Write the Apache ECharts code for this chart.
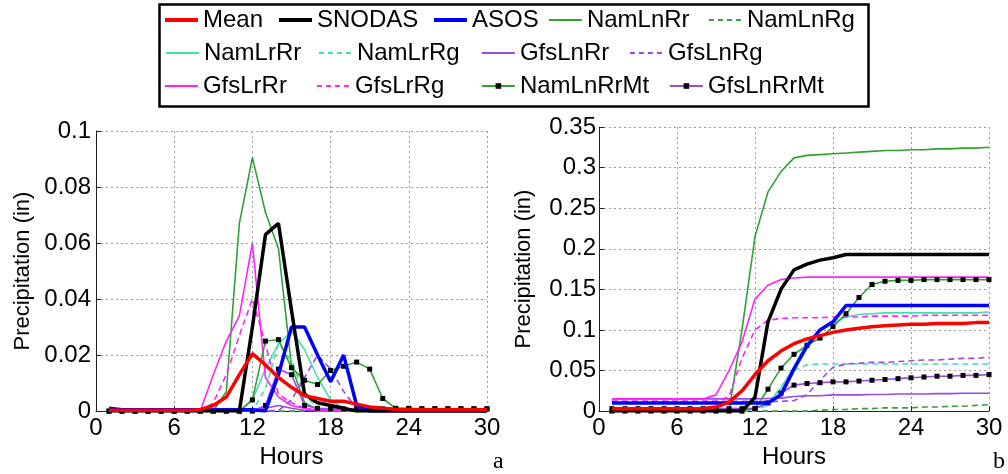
<!DOCTYPE html>
<html>
<head>
<meta charset="utf-8">
<script src="https://cdn.jsdelivr.net/npm/echarts@6/dist/echarts.min.js"></script>
<style>html,body{margin:0;padding:0;background:#fff}#c{width:1008px;height:474px}</style>
</head>
<body>
<div id="c"></div>
<script>
// ---------- DATA ----------
const hours = [1,2,3,4,5,6,7,8,9,10,11,12,13,14,15,16,17,18,19,20,21,22,23,24,25,26,27,28,29,30];
const seriesNames = ['Mean','SNODAS','ASOS','NamLnRr','NamLnRg','NamLrRr','NamLrRg','GfsLnRr','GfsLnRg','GfsLrRr','GfsLrRg','NamLnRrMt','GfsLnRrMt'];
const xTicks = [0,6,12,18,24,30];
const yTicksA = [0,0.02,0.04,0.06,0.08,0.1];
const yTicksB = [0,0.05,0.1,0.15,0.2,0.25,0.3,0.35];

// panel a: hourly precipitation (in)
const meanHourly      = [0.0003,0.0003,0.0003,0.0003,0.0003,0.0003,0.0003,0.0005,0.002,0.005,0.013,0.0205,0.0165,0.012,0.0085,0.0055,0.0045,0.0035,0.0035,0.0025,0.0015,0.001,0.0007,0.0005,0.0005,0.0005,0.0005,0.0005,0.0005,0.0005];
const snodasHourly    = [0,0,0,0,0,0,0,0,0,0,0,0.03,0.063,0.067,0.036,0.006,0.003,0.002,0.001,0,0,0,0,0,0,0,0,0,0,0];
const asosHourly      = [0.001,0.0005,0.0005,0.0005,0.0005,0.0005,0.0005,0.0005,0.0005,0.0005,0.0005,0.0005,0,0.013,0.03,0.03,0.02,0.0105,0.02,0.002,0,0,0,0,0,0,0,0,0,0];
const namLnRrHourly   = [0,0,0,0,0,0,0,0,0,0.007,0.067,0.0905,0.071,0.058,0.016,0.003,0.0006,0.0006,0.0006,0.0006,0.0006,0.0006,0.0006,0.0006,0.0006,0.0006,0.0006,0.0006,0.0006,0.0006];
const namLnRgHourly   = [0,0,0,0,0,0,0,0,0,0,0,0,0,0,0,0,0.0005,0.0005,0.0005,0.0005,0.0005,0.0005,0.0005,0.0005,0.0005,0.0005,0.0005,0.0005,0.0005,0.0005];
const namLrRrHourly   = [0,0,0,0,0,0,0,0,0,0,0,0.004,0.015,0.024,0.0285,0.022,0.012,0.004,0.001,0.0003,0.0003,0.0003,0.0003,0.0003,0.0003,0.0003,0.0003,0.0003,0.0003,0.0003];
const namLrRgHourly   = [0,0,0,0,0,0,0,0,0,0,0,0,0.008,0.024,0.018,0.006,0.001,0.0002,0.0002,0.0002,0.0002,0.0002,0.0002,0.0002,0.0002,0.0002,0.0002,0.0002,0.0002,0.0002];
const gfsLnRrHourly   = [0.001,0.0002,0.0002,0.0002,0.0002,0.0002,0.0002,0.0002,0.0002,0.0002,0.0002,0.0002,0.001,0.002,0.001,0.0003,0.0003,0.0003,0.0003,0.0003,0.0003,0.0003,0.0003,0.0003,0.0003,0.0003,0.0003,0.0003,0.0003,0.0003];
const gfsLnRgHourly   = [0.001,0.0002,0.0002,0.0002,0.0002,0.0002,0.0002,0.0002,0.0002,0.0002,0.0002,0.0002,0.0002,0.0002,0.004,0.012,0.02,0.015,0.007,0.001,0.0005,0.0005,0.0005,0.0005,0.0005,0.0005,0.0005,0.0005,0.0005,0.0005];
const gfsLrRrHourly   = [0.0005,0,0,0,0,0,0,0,0.013,0.025,0.034,0.06,0.012,0.005,0.002,0.001,0,0,0,0,0,0,0,0,0,0,0,0,0,0];
const gfsLrRgHourly   = [0,0,0,0,0,0,0,0,0.003,0.013,0.027,0.04,0.024,0.006,0.003,0.001,0.0003,0.0003,0.0003,0.0003,0.0003,0.0003,0.0003,0.0003,0.0003,0.0003,0.0003,0.0003,0.0003,0.0003];
const namLnRrMtHourly = [0,0,0,0,0,0,0,0,0,0,0,0.004,0.025,0.0255,0.0155,0.011,0.0095,0.0145,0.016,0.0175,0.015,0.0045,0.001,0.001,0.0008,0.0008,0.0008,0.0008,0.0008,0.0008];
const gfsLnRrMtHourly = [0,0,0,0,0,0,0,0,0,0,0,0,0.002,0.015,0.013,0.002,0.001,0.0008,0.0008,0.0008,0.0008,0.0008,0.0008,0.0008,0.0008,0.0008,0.0008,0.0008,0.0008,0.0008];

// panel b: accumulated precipitation (in)
const meanCum      = [0.003,0.003,0.003,0.003,0.003,0.003,0.003,0.003,0.005,0.011,0.025,0.045,0.062,0.074,0.083,0.089,0.093,0.097,0.1,0.102,0.104,0.105,0.106,0.107,0.107,0.108,0.108,0.108,0.109,0.109];
const snodasCum    = [0,0,0,0,0,0,0,0,0,0,0,0.017,0.11,0.15,0.174,0.181,0.186,0.189,0.193,0.193,0.193,0.193,0.193,0.193,0.193,0.193,0.193,0.193,0.193,0.193];
const asosCum      = [0.01,0.01,0.01,0.01,0.01,0.01,0.01,0.01,0.01,0.01,0.01,0.01,0.01,0.02,0.052,0.08,0.1,0.11,0.13,0.13,0.13,0.13,0.13,0.13,0.13,0.13,0.13,0.13,0.13,0.13];
const namLnRrCum   = [0,0,0,0,0,0,0,0,0,0,0.1,0.215,0.27,0.295,0.312,0.315,0.316,0.317,0.318,0.319,0.32,0.321,0.321,0.322,0.322,0.323,0.323,0.324,0.324,0.325];
const namLnRgCum   = [0,0,0,0,0,0,0,0,0,0,0,0,0,0,0,0,0.001,0.002,0.002,0.003,0.003,0.004,0.004,0.004,0.005,0.005,0.006,0.006,0.007,0.008];
const namLrRrCum   = [0.003,0.003,0.003,0.003,0.003,0.003,0.003,0.003,0.003,0.003,0.003,0.003,0.01,0.028,0.055,0.085,0.1,0.108,0.116,0.119,0.12,0.121,0.121,0.121,0.121,0.121,0.121,0.121,0.121,0.122];
const namLrRgCum   = [0,0,0,0,0,0,0,0,0,0,0,0,0.008,0.03,0.05,0.057,0.058,0.058,0.058,0.058,0.058,0.058,0.058,0.058,0.058,0.058,0.058,0.058,0.058,0.058];
const gfsLnRrCum   = [0.015,0.015,0.015,0.015,0.015,0.015,0.015,0.015,0.015,0.015,0.015,0.015,0.0155,0.016,0.018,0.019,0.019,0.02,0.02,0.02,0.0205,0.0205,0.021,0.021,0.021,0.0215,0.0215,0.022,0.022,0.022];
const gfsLnRgCum   = [0.012,0.012,0.012,0.012,0.012,0.012,0.012,0.012,0.012,0.012,0.012,0.012,0.012,0.012,0.013,0.02,0.038,0.054,0.058,0.059,0.06,0.06,0.061,0.062,0.063,0.063,0.064,0.065,0.065,0.066];
const gfsLrRrCum   = [0.015,0.015,0.015,0.015,0.015,0.015,0.015,0.015,0.02,0.05,0.085,0.138,0.155,0.162,0.164,0.165,0.165,0.165,0.165,0.165,0.165,0.165,0.165,0.165,0.165,0.165,0.165,0.165,0.165,0.165];
const gfsLrRgCum   = [0.012,0.012,0.012,0.012,0.012,0.012,0.012,0.012,0.012,0.018,0.065,0.1,0.112,0.114,0.115,0.115,0.115,0.116,0.116,0.116,0.117,0.117,0.117,0.117,0.118,0.118,0.118,0.118,0.118,0.118];
const namLnRrMtCum = [0,0,0,0,0,0,0,0,0,0,0,0.003,0.027,0.053,0.07,0.081,0.09,0.104,0.12,0.14,0.156,0.16,0.161,0.161,0.162,0.162,0.162,0.162,0.162,0.162];
const gfsLnRrMtCum = [0.003,0.003,0.003,0.003,0.003,0.003,0.003,0.003,0.003,0.003,0.003,0.003,0.01,0.022,0.032,0.034,0.035,0.036,0.036,0.037,0.038,0.039,0.04,0.041,0.042,0.043,0.043,0.044,0.044,0.045];

const hourlyData = [meanHourly,snodasHourly,asosHourly,namLnRrHourly,namLnRgHourly,namLrRrHourly,namLrRgHourly,gfsLnRrHourly,gfsLnRgHourly,gfsLrRrHourly,gfsLrRgHourly,namLnRrMtHourly,gfsLnRrMtHourly];
const cumData = [meanCum,snodasCum,asosCum,namLnRrCum,namLnRgCum,namLrRrCum,namLrRgCum,gfsLnRrCum,gfsLnRgCum,gfsLrRrCum,gfsLrRgCum,namLnRrMtCum,gfsLnRrMtCum];

// ---------- STYLES ----------
const GREEN='#33a033', TURQ='#44ddb2', PURP='#9a48e6', MAG='#ff22ff';
const styles = {
  'Mean':      {color:'#ff0000', width:3.5, z:13},
  'SNODAS':    {color:'#000000', width:3.5, z:12},
  'ASOS':      {color:'#0000ff', width:3.5, z:11},
  'NamLnRr':   {color:GREEN, width:1.6},
  'NamLnRg':   {color:GREEN, width:1.6, dash:true},
  'NamLrRr':   {color:TURQ, width:1.6},
  'NamLrRg':   {color:TURQ, width:1.6, dash:true},
  'GfsLnRr':   {color:PURP, width:1.6},
  'GfsLnRg':   {color:PURP, width:1.6, dash:true},
  'GfsLrRr':   {color:MAG, width:1.6},
  'GfsLrRg':   {color:MAG, width:1.6, dash:true},
  'NamLnRrMt': {color:GREEN, width:1.6, marker:true},
  'GfsLnRrMt': {color:PURP, width:1.6, marker:true}
};
// legend placement: [row center y, text start x]
const legendPos = {
  'Mean':[20,201],'SNODAS':[20,315],'ASOS':[20,470],'NamLnRr':[20,586],'NamLnRg':[20,746],
  'NamLrRr':[53,203],'NamLrRg':[53,356],'GfsLnRr':[53,519],'GfsLnRg':[53,667],
  'GfsLrRr':[86,202],'GfsLrRg':[86,354],'NamLnRrMt':[86,519],'GfsLnRrMt':[86,707]
};

const FONT = '"Liberation Sans", Arial, Helvetica, sans-serif';
const chart = echarts.init(document.getElementById('c'), null, {renderer:'canvas'});

function mkSeries(name, vals, idx) {
  const s = styles[name];
  return {
    name, type:'line', xAxisIndex:idx, yAxisIndex:idx,
    data: hours.map((h,i)=>[h, vals[i]]),
    showSymbol: !!s.marker,
    symbol: s.marker ? 'rect' : 'none',
    symbolSize: 5,
    itemStyle: {color: s.marker ? '#000' : s.color},
    lineStyle: {color: s.color, width: s.width, type: s.dash ? [6,4] : 'solid'},
    z: s.z || 5,
    animation:false, silent:true
  };
}
const series = [];
seriesNames.forEach((n,i)=>{ series.push(mkSeries(n, hourlyData[i], 0)); series.push(mkSeries(n, cumData[i], 1)); });

const legends = seriesNames.map(n=>{
  const s = styles[n];
  const mk = !!s.marker;
  const ih = mk ? 7 : 12;
  return {
    data:[n], orient:'horizontal', selectedMode:false,
    left: legendPos[n][1]-38, top: legendPos[n][0]-12, padding:0, itemGap:0,
    itemWidth:33, itemHeight:ih,
    itemStyle: mk ? {color:'#000', opacity:1} : {opacity:0},
    lineStyle: {width: s.width > 2 ? 4 : 1.8, type: s.dash ? [5,4] : 'solid'},
    textStyle:{fontSize:24, fontFamily:FONT, color:'#000', lineHeight:24, padding:[0,0,0,0]}
  };
});

function xAx(idx){
  return {gridIndex:idx, type:'value', min:0, max:30, interval:6,
    name:'Hours', nameLocation:'middle', nameGap:27,
    nameTextStyle:{fontSize:24, fontFamily:FONT, color:'#000'},
    axisLine:{show:true, onZero:false, lineStyle:{color:'#222', width:1}},
    axisTick:{show:true, inside:true, length:5, lineStyle:{color:'#222'}},
    axisLabel:{fontSize:24, fontFamily:FONT, color:'#000', margin:5},
    splitLine:{show:true, lineStyle:{color:'#9a9a9a', type:[2,3], width:1}}};
}
function yAx(idx, max, interval, gap, margin){
  return {gridIndex:idx, type:'value', min:0, max, interval,
    name:'Precipitation (in)', nameLocation:'middle', nameGap:gap,
    nameTextStyle:{fontSize:22, fontFamily:FONT, color:'#000'},
    axisLine:{show:true, lineStyle:{color:'#222', width:1}},
    axisTick:{show:true, inside:true, length:5, lineStyle:{color:'#222'}},
    axisLabel:{fontSize:24, fontFamily:FONT, color:'#000', margin},
    splitLine:{show:true, lineStyle:{color:'#9a9a9a', type:[2,3], width:1}}};
}

chart.setOption({
  animation:false,
  backgroundColor:'#fff',
  legend: legends,
  grid:[
    {left:96, right:521, top:131, bottom:54},
    {left:599, right:19, top:127, bottom:57}
  ],
  xAxis:[xAx(0), xAx(1)],
  yAxis:[yAx(0, 0.1, 0.02, 62, 5), yAx(1, 0.35, 0.05, 64, 3)],
  series,
  graphic:[
    {type:'rect', left:157, top:2, shape:{width:709, height:102}, style:{fill:'none', stroke:'#000', lineWidth:2.5}, silent:true, z:-1},
    {type:'text', left:493, top:450, style:{text:'a', font:'24px "Liberation Serif", "DejaVu Serif", serif', fill:'#000'}},
    {type:'text', left:993, top:450, style:{text:'b', font:'24px "Liberation Serif", "DejaVu Serif", serif', fill:'#000'}}
  ]
});
</script>
</body>
</html>
